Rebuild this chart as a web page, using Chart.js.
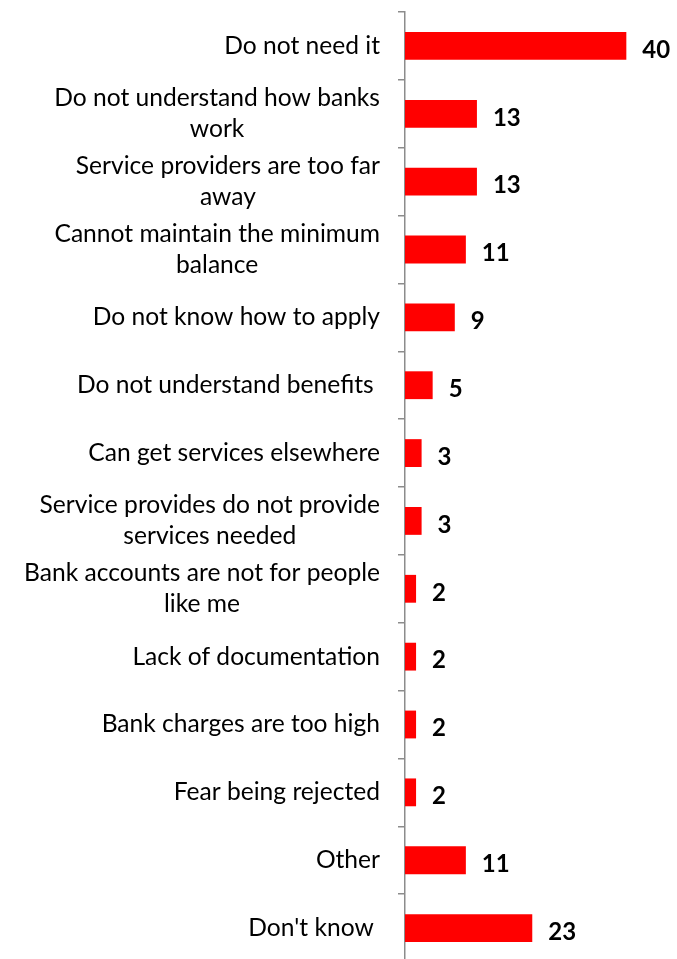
<!DOCTYPE html>
<html>
<head>
<meta charset="utf-8">
<script src="https://cdn.jsdelivr.net/npm/chart.js@4/dist/chart.umd.min.js"></script>
<style>
  html, body { margin: 0; padding: 0; background: #fff; overflow: hidden; }
</style>
</head>
<body>
<canvas id="reasons-chart" width="677" height="965"></canvas>
<script>
// Reasons for not having a bank account (%)
let REASONS = [
    ["Do not need it"],
    ["Do not understand how banks", "work"],
    ["Service providers are too far", "away"],
    ["Cannot maintain the minimum", "balance"],
    ["Do not know how to apply"],
    ["Do not understand benefits "],
    ["Can get services elsewhere"],
    ["Service provides do not provide", "services needed"],
    ["Bank accounts are not for people", "like me"],
    ["Lack of documentation"],
    ["Bank charges are too high"],
    ["Fear being rejected"],
    ["Other"],
    ["Don't know "]
];
let SHARES = [40, 13, 13, 11, 9, 5, 3, 3, 2, 2, 2, 2, 11, 23];

const AXIS_GREY = "#8c8c8c";
const FONT = "Lato, 'Open Sans', sans-serif";
const LABEL_RIGHT = 380;
const LABEL_LINE = 31;

// Category names: block is right aligned, lines are centred inside the block
const categoryLabels = {
    id: 'categoryLabels',
    afterDraw: function (chart) {
        let ctx = chart.ctx;
        let yScale = chart.scales.y;
        ctx.save();
        ctx.fillStyle = "#000";
        ctx.font = "24.6px " + FONT;
        ctx.textAlign = "center";
        ctx.textBaseline = "middle";
        REASONS.forEach(function (lines, i) {
            let y = yScale.getPixelForValue(i);
            let w = Math.max.apply(null, lines.map(function (l) { return ctx.measureText(l).width; }));
            let cx = LABEL_RIGHT - w / 2;
            let y0 = y - (lines.length - 1) * LABEL_LINE / 2;
            lines.forEach(function (l, j) {
                ctx.fillText(l, cx, y0 + j * LABEL_LINE);
            });
        });
        ctx.restore();
    }
};

// Write the value in bold just past the end of each bar
const valueLabels = {
    id: 'valueLabels',
    afterDatasetsDraw: function (chart) {
        let ctx = chart.ctx;
        let meta = chart.getDatasetMeta(0);
        ctx.save();
        ctx.fillStyle = "#000";
        ctx.font = "bold 24px " + FONT;
        ctx.textAlign = "left";
        ctx.textBaseline = "middle";
        meta.data.forEach(function (bar, i) {
            ctx.fillText(String(SHARES[i]), bar.x + 16, bar.y + 4);
        });
        ctx.restore();
    }
};

new Chart("reasons-chart", {
    type: "bar",
    data: {
        labels: REASONS,
        datasets: [{
            data: SHARES,
            backgroundColor: "#ff0000",
            borderWidth: 0,
            barPercentage: 0.41,
            categoryPercentage: 1
        }]
    },
    options: {
        indexAxis: "y",
        responsive: false,
        animation: false,
        layout: { padding: { top: 12, bottom: 3, right: 23, left: 0 } },
        plugins: {
            legend: { display: false },
            tooltip: { enabled: false }
        },
        scales: {
            x: {
                display: false,
                min: 0,
                max: 45
            },
            y: {
                afterFit: function (scale) {
                    scale.width = 405;
                    scale.paddingTop = 0;
                    scale.paddingBottom = 0;
                },
                border: { color: AXIS_GREY, width: 1.5 },
                grid: {
                    drawOnChartArea: false,
                    drawTicks: true,
                    tickLength: 7,
                    offset: true,
                    color: AXIS_GREY,
                    lineWidth: 1.5
                },
                ticks: {
                    autoSkip: false,
                    callback: function () { return ""; }
                }
            }
        }
    },
    plugins: [valueLabels, categoryLabels]
});
</script>
</body>
</html>
